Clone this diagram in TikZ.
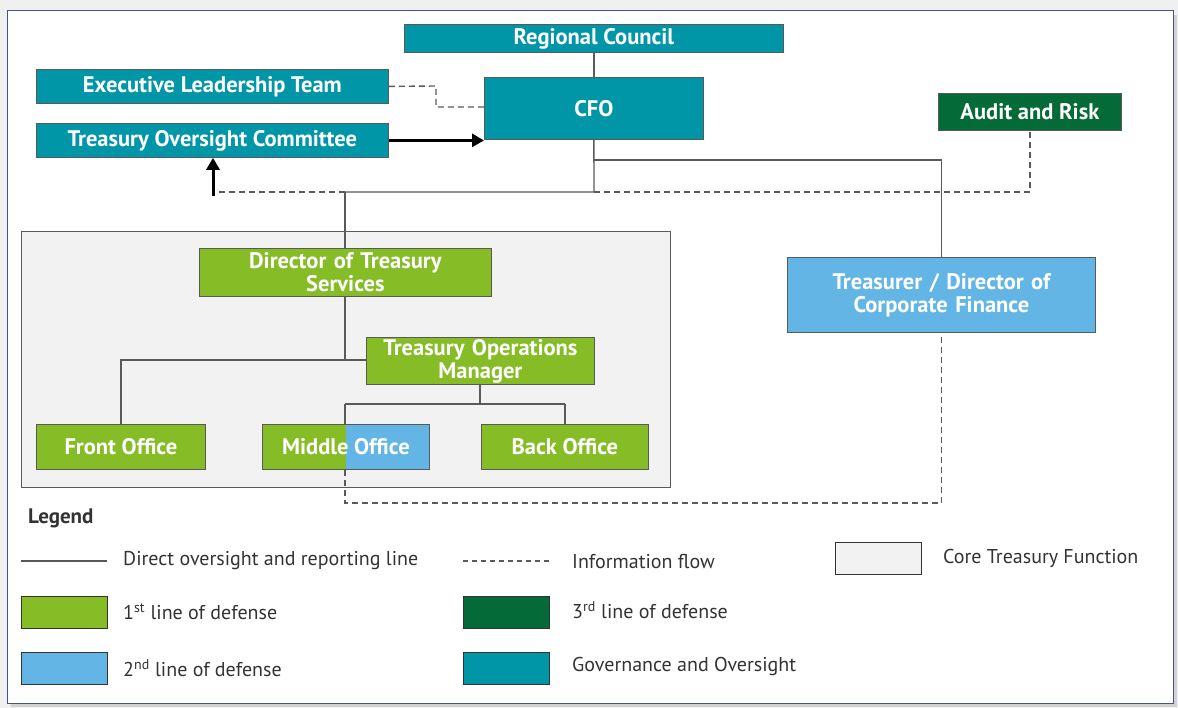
\documentclass[tikz,border=0pt]{standalone}
\usepackage{fontspec}
\setmainfont{PT Sans}
\usetikzlibrary{arrows.meta}
\definecolor{teal1}{RGB}{0,150,167}
\definecolor{green1}{RGB}{134,188,37}
\definecolor{dgreen}{RGB}{4,106,56}
\definecolor{lblue}{RGB}{98,181,229}
\definecolor{coregray}{RGB}{242,242,242}
\definecolor{linegray}{RGB}{90,90,90}
\definecolor{framecol}{RGB}{70,80,140}
\tikzset{
  box/.style={draw=gray!70!black, line width=0.8pt, inner sep=0pt, anchor=north west,
    text=white, font=\fontsize{22.5}{23}\selectfont\bfseries, align=center},
  conn/.style={draw=linegray, line width=1.4pt},
  info/.style={draw=linegray, line width=1.4pt, dash pattern=on 6pt off 4pt},
  bigarrow/.style={draw=black, line width=3pt, -{Triangle[length=12pt,width=13pt]}},
  legtext/.style={anchor=west, font=\fontsize{20}{22}\selectfont, text=black!80, inner sep=0pt},
  legbox/.style={draw=black!80, line width=0.8pt, minimum width=86pt, minimum height=32pt, anchor=north west, inner sep=0pt}
}
\begin{document}
\begin{tikzpicture}[x=1pt,y=-1pt]
\useasboundingbox (0,0) rectangle (1178,708);
\fill[gray!12] (0,0) rectangle (1178,708);
\fill[gray!35] (11,15) rectangle (1177,707);
\draw[fill=white, draw=framecol, line width=1pt] (7,11) rectangle (1173,703);
% core treasury area
\node[draw=linegray, fill=coregray, line width=1pt, anchor=north west, minimum width=649pt, minimum height=256pt, inner sep=0pt] (core) at (21,231) {};
% nodes
\node[box, fill=teal1, minimum width=379pt, minimum height=28pt] (rc) at (404,24) {Regional Council};
\node[box, fill=teal1, minimum width=352pt, minimum height=34pt] (elt) at (36,69) {Executive Leadership Team};
\node[box, fill=teal1, minimum width=352pt, minimum height=34pt] (toc) at (36,123) {Treasury Oversight Committee};
\node[box, fill=teal1, minimum width=219pt, minimum height=62pt] (cfo) at (484,77) {CFO};
\node[box, fill=dgreen, minimum width=183pt, minimum height=37pt] (audit) at (938,93) {Audit and Risk};
\node[box, fill=lblue, minimum width=308pt, minimum height=75pt, text width=300pt] (treas) at (787,257) {Treasurer / Director of\\Corporate Finance};
\node[box, fill=green1, minimum width=292pt, minimum height=48pt, text width=285pt] (dts) at (199,248) {Director of Treasury\\Services};
\node[box, fill=green1, minimum width=228pt, minimum height=47pt, text width=222pt] (tom) at (366,337) {Treasury Operations\\Manager};
\node[box, fill=green1, minimum width=169pt, minimum height=45pt] (fo) at (36,424) {Front Office};
\node[box, fill=green1, minimum width=167pt, minimum height=45pt,
  path picture={\fill[lblue] (path picture bounding box.north) rectangle (path picture bounding box.south east);}] (mo) at (262,424) {Middle Office};
\node[box, fill=green1, minimum width=167pt, minimum height=45pt] (bo) at (481,424) {Back Office};
% coordinates
\coordinate (c1) at (594,192);
\coordinate (c2) at (345,192);
\coordinate (c3) at (213,192);
\coordinate (c4) at (1030,192);
\coordinate (c5) at (594,160);
\coordinate (c6) at (345,360);
\coordinate (c7) at (480,404);
\coordinate (c8) at (345,503);
% connectors
\draw[conn] (rc.south) -- (cfo.north);
\draw[info] (elt.east) -- (436,86) |- (cfo.west |- 0,107);
\draw[bigarrow] (toc.east) -- (cfo.west |- toc.east);
\draw[conn] (cfo.south) -- (c1) -- (c2);
\draw[conn] (c5) -| (treas.north);
\draw[info] (c2) -- (c3);
\draw[bigarrow] (213,196) -- (toc.south -| 213,0);
\draw[info] (c1) -| (audit.south -| c4);
\draw[conn] (c2) -- (dts.north -| c2);
\draw[conn] (dts.south -| c6) -- (c6) -- (tom.west |- c6);
\draw[conn] (c6) -| (fo.north);
\draw[conn] (tom.south -| c7) -- (c7);
\draw[conn] (345,404) -- (565,404);
\draw[conn] (345,404) -- (mo.north -| 345,0);
\draw[conn] (565,404) -- (bo.north -| 565,0);
\draw[info] (mo.south -| c8) -- (c8) -| (treas.south);
% legend
\node[anchor=west, inner sep=0pt, font=\fontsize{21}{23}\selectfont\bfseries, text=black!80] (legtitle) at (28,518) {Legend};
\coordinate (l1a) at (21,561); \coordinate (l1b) at (107,561);
\draw[conn] (l1a) -- (l1b);
\node[legtext] (t1) at (123,561) {Direct oversight and reporting line};
\coordinate (l2a) at (463,561); \coordinate (l2b) at (550,561);
\draw[info, line width=1.2pt, dash pattern=on 5pt off 4pt] (l2a) -- (l2b);
\node[legtext] (t2) at (572,561) {Information flow};
\node[legbox, fill=coregray] (b3) at (835,542) {};
\node[legtext] (t3) at (943,558) {Core Treasury Function};
\node[legbox, fill=green1] (b4) at (21,596) {};
\node[legtext] (t4) at (123,612) {1\textsuperscript{st} line of defense};
\node[legbox, fill=dgreen] (b5) at (463,596) {};
\node[legtext] (t5) at (572,610) {3\textsuperscript{rd} line of defense};
\node[legbox, fill=lblue] (b6) at (21,652) {};
\node[legtext] (t6) at (123,668) {2\textsuperscript{nd} line of defense};
\node[legbox, fill=teal1] (b7) at (463,652) {};
\node[legtext] (t7) at (572,666) {Governance and Oversight};
\end{tikzpicture}
\end{document}
